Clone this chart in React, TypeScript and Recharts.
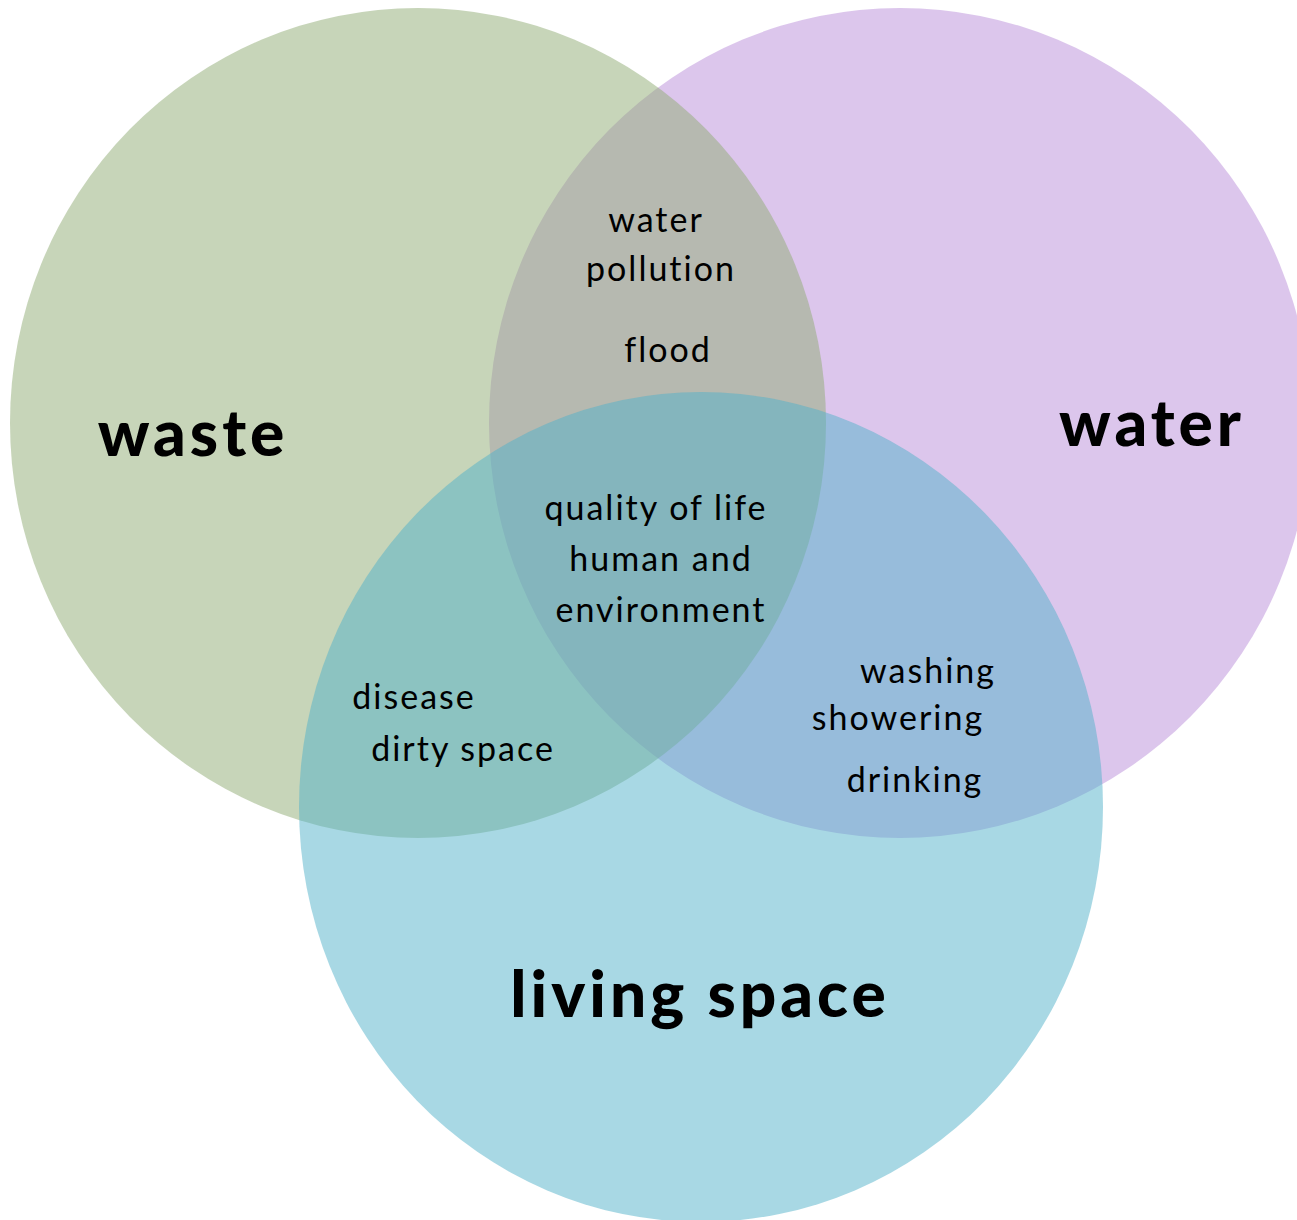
import { Scatter, ScatterChart, XAxis, YAxis } from "recharts";

const W = 1297;
const H = 1220;

// circles of the three sets, in plot units (x right, y down)
const waterSet = [{ name: "water", x: 900, y: 423, rx: 411, ry: 415 }];
const wasteSet = [{ name: "waste", x: 418, y: 423, rx: 408, ry: 415 }];
const livingSet = [{ name: "living space", x: 701, y: 807, rx: 402, ry: 415 }];

// big set names (x = centre, y = baseline)
const setNames = [
  { text: "waste", x: 191, y: 456 },
  { text: "water", x: 1150, y: 446 },
  { text: "living space", x: 698, y: 1017 },
];

// small labels in the overlaps
const overlapLabels = [
  { text: "water", x: 655, y: 232 },
  { text: "pollution", x: 660, y: 281 },
  { text: "flood", x: 667, y: 362 },
  { text: "quality of life", x: 655, y: 520 },
  { text: "human and", x: 660, y: 571 },
  { text: "environment", x: 660, y: 622 },
  { text: "disease", x: 413, y: 709 },
  { text: "dirty space", x: 462, y: 761 },
  { text: "washing", x: 927, y: 683 },
  { text: "showering", x: 897, y: 730 },
  { text: "drinking", x: 914, y: 792 },
];

const FONT = "Lato, 'Open Sans', sans-serif";

const SX = W / W;
const SY = H / H;

function ellipseShape(color: string) {
  return (props: any) => {
    const { cx, cy, payload } = props;
    return (
      <ellipse
        cx={cx}
        cy={cy}
        rx={payload.rx * SX}
        ry={payload.ry * SY}
        fill={color}
        fillOpacity={0.5}
      />
    );
  };
}

function textShape(size: number, weight: number, spacing: number) {
  return (props: any) => {
    const { cx, cy, payload } = props;
    return (
      <text
        x={cx + spacing / 2}
        y={cy}
        textAnchor="middle"
        fontFamily={FONT}
        fontSize={size}
        fontWeight={weight}
        letterSpacing={spacing}
        fill="#000"
      >
        {payload.text}
      </text>
    );
  };
}

export default function App() {
  return (
    <div style={{ position: "absolute", left: 0, top: 0, width: W, height: H, background: "#fff" }}>
      <ScatterChart width={W} height={H} margin={{ top: 0, right: 0, bottom: 0, left: 0 }}>
        <XAxis type="number" dataKey="x" domain={[0, W]} hide />
        <YAxis type="number" dataKey="y" domain={[0, H]} reversed hide />
        <Scatter data={waterSet} shape={ellipseShape("rgb(185,141,217)")} isAnimationActive={false} />
        <Scatter data={wasteSet} shape={ellipseShape("rgb(143,171,115)")} isAnimationActive={false} />
        <Scatter data={livingSet} shape={ellipseShape("rgb(81,177,201)")} isAnimationActive={false} />
        <Scatter data={overlapLabels} shape={textShape(34, 400, 2)} isAnimationActive={false} />
        <Scatter data={setNames} shape={textShape(64, 900, 4)} isAnimationActive={false} />
      </ScatterChart>
    </div>
  );
}
